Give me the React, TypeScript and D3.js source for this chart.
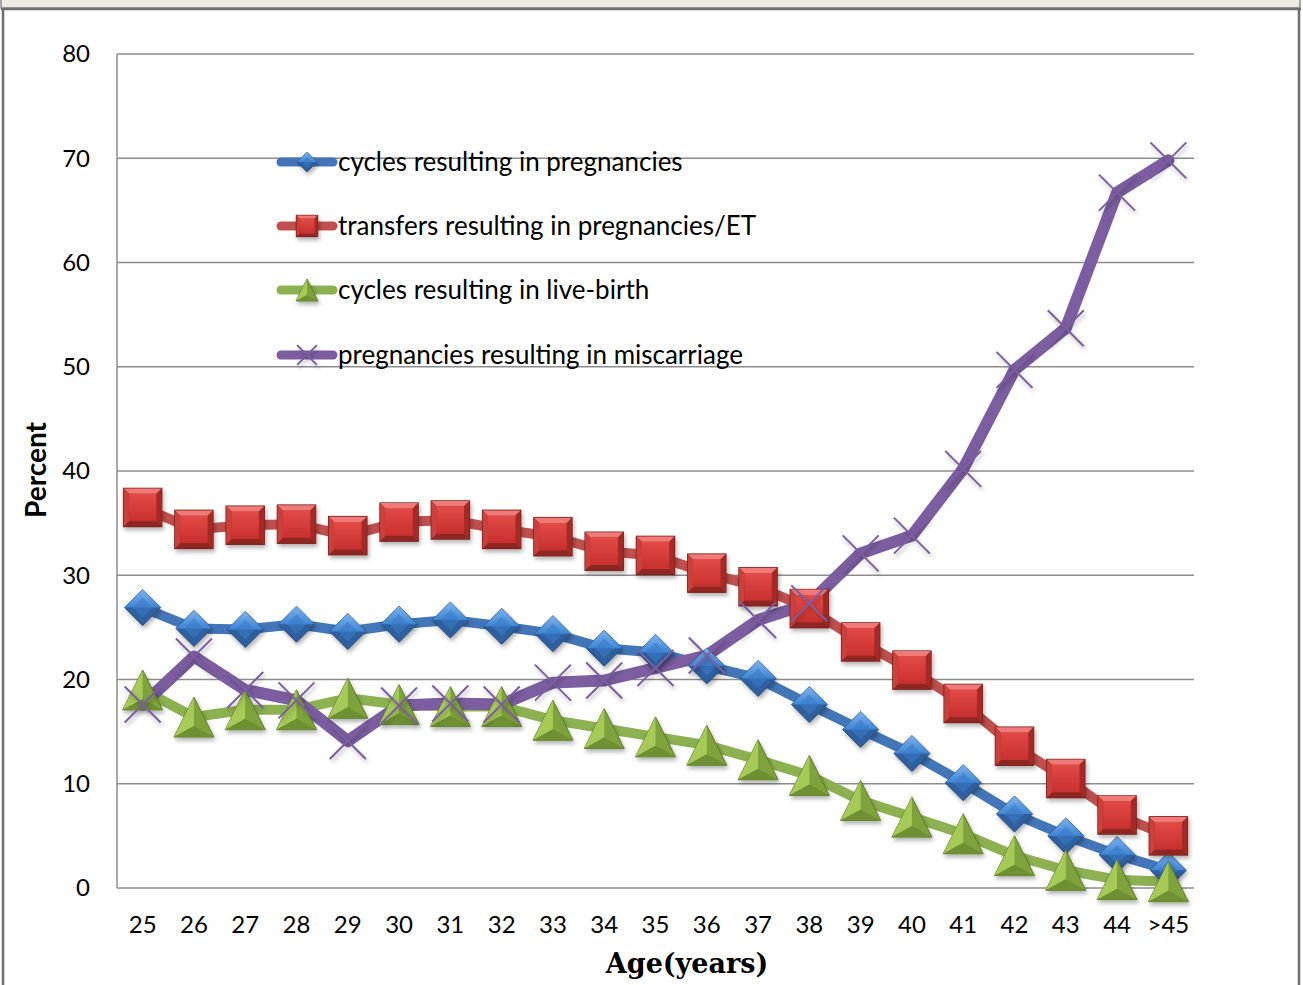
import React from "react";
import * as d3 from "d3";

const categories = ["25","26","27","28","29","30","31","32","33","34","35","36","37","38","39","40","41","42","43","44",">45"];
const cyclesPregnancies = [26.9,24.9,24.8,25.3,24.6,25.3,25.7,25.1,24.4,23.0,22.6,21.3,20.1,17.6,15.2,12.9,10.1,7.1,5.0,3.2,1.7];
const transfersPregnancies = [36.5,34.4,34.8,34.9,33.8,35.1,35.3,34.4,33.7,32.3,31.9,30.2,28.9,26.8,23.6,20.9,17.7,13.6,10.5,7.0,5.0];
const cyclesLiveBirth = [19.0,16.4,17.1,17.1,18.2,17.6,17.4,17.4,16.1,15.3,14.5,13.7,12.3,10.8,8.4,6.8,5.2,3.1,1.7,0.8,0.6];
const pregMiscarriage = [17.6,22.2,19.0,18.0,14.1,17.5,17.7,17.6,19.7,19.9,21.1,22.3,25.7,27.3,32.1,33.8,40.2,49.7,53.7,66.7,69.8];
const yTicks = [0,10,20,30,40,50,60,70,80];

const seriesNames = [
  "cycles resulting in pregnancies",
  "transfers resulting in pregnancies/ET",
  "cycles resulting in live-birth",
  "pregnancies resulting in miscarriage",
];

const W = 1303, H = 985;
const L = 117, R = 1194, T = 54, B = 888;

const x = d3.scaleBand<string>().domain(categories).range([L, R]);
const y = d3.scaleLinear().domain([0, 80]).range([B, T]);
const cx = (c: string) => (x(c) as number) + x.bandwidth() / 2;

type Kind = "diamond" | "square" | "triangle" | "x";

const series = [
  { name: seriesNames[0], data: cyclesPregnancies, color: "#4376B8", kind: "diamond" as Kind, w: 10 },
  { name: seriesNames[1], data: transfersPregnancies, color: "#C0504D", kind: "square" as Kind, w: 10 },
  { name: seriesNames[2], data: cyclesLiveBirth, color: "#8DB051", kind: "triangle" as Kind, w: 10 },
  { name: seriesNames[3], data: pregMiscarriage, color: "#7B5DA0", kind: "x" as Kind, w: 12 },
];

function Marker({ kind, px, py, scale = 1 }: { kind: Kind; px: number; py: number; scale?: number }) {
  const s = scale;
  if (kind === "diamond") {
    const r = 18 * s;
    return (
      <g transform={`translate(${px},${py})`} filter="url(#shadow)">
        <path d={`M0,${-r}L${r},0L0,${r}L${-r},0Z`} fill="#2F5F9E" stroke="#264C80" strokeWidth={1} />
        <path d={`M0,${-r}L${r},0L${-r},0Z`} fill="url(#gBlueTop)" />
        <path d={`M0,${-r * 0.55}L${r * 0.55},0L0,${r * 0.55}L${-r * 0.55},0Z`} fill="#3B7BC8" opacity={0.6} />
      </g>
    );
  }
  if (kind === "square") {
    const r = 19 * s;
    const i = r * 0.72;
    return (
      <g transform={`translate(${px},${py})`} filter="url(#shadow)">
        <rect x={-r} y={-r} width={2 * r} height={2 * r} fill="#B02C2A" stroke="#7A2220" strokeWidth={1.5} />
        <path d={`M${-r},${-r}L${r},${-r}L${i},${-i}L${-i},${-i}Z`} fill="#F07A78" />
        <path d={`M${-r},${r}L${r},${r}L${i},${i}L${-i},${i}Z`} fill="#8E2523" />
        <path d={`M${-r},${-r}L${-i},${-i}L${-i},${i}L${-r},${r}Z`} fill="#C9403D" />
        <path d={`M${r},${-r}L${i},${-i}L${i},${i}L${r},${r}Z`} fill="#A52A28" />
        <rect x={-i} y={-i} width={2 * i} height={2 * i} fill="url(#gRedFace)" />
      </g>
    );
  }
  if (kind === "triangle") {
    const h = 20 * s, b = 20 * s;
    return (
      <g transform={`translate(${px},${py})`} filter="url(#shadow)">
        <path d={`M0,${-h}L${b},${h}L${-b},${h}Z`} fill="#7FA23C" stroke="#5C7A2A" strokeWidth={1} />
        <path d={`M0,${-h}L0,${h * 0.45}L${-b},${h}Z`} fill="#A6C958" />
        <path d={`M0,${h * 0.45}L${b},${h}L${-b},${h}Z`} fill="#6E8F32" />
      </g>
    );
  }
  const r = 18 * s;
  return (
    <g transform={`translate(${px},${py})`} stroke="#7B5DA0" strokeWidth={2} filter="url(#shadow)">
      <line x1={-r} y1={-r} x2={r} y2={r} />
      <line x1={-r} y1={r} x2={r} y2={-r} />
    </g>
  );
}

export default function App() {
  const line = d3.line<number>().x((_, i) => cx(categories[i])).y((d) => y(d));
  const legendY = [162, 226, 290, 355];
  return (
    <div style={{ position: "absolute", left: 0, top: 0 }}>
      <svg width={W} height={H} style={{ display: "block" }} fontFamily="Lato, 'Open Sans', sans-serif">
        <defs>
          <filter id="shadow" x="-50%" y="-50%" width="200%" height="200%">
            <feDropShadow dx="1.5" dy="3" stdDeviation="2" floodColor="#000" floodOpacity="0.3" />
          </filter>
          <linearGradient id="gBlueTop" x1="0" y1="0" x2="0" y2="1">
            <stop offset="0" stopColor="#7DB2EE" />
            <stop offset="1" stopColor="#3F86D4" />
          </linearGradient>
          <linearGradient id="gRedFace" x1="0" y1="0" x2="0" y2="1">
            <stop offset="0" stopColor="#E24A47" />
            <stop offset="1" stopColor="#C8302E" />
          </linearGradient>
        </defs>
        <rect x={0} y={0} width={W} height={H} fill="#fff" />
        <rect x={1} y={-2} width={1299} height={10} fill="#EEEBE0" stroke="#8A8A8A" strokeWidth={1.5} />
        <line x1={1} y1={9} x2={1301} y2={9} stroke="#6E6E6E" strokeWidth={2.5} />
        <line x1={3} y1={9} x2={3} y2={H} stroke="#6E6E6E" strokeWidth={2.5} />
        <line x1={1299} y1={9} x2={1299} y2={H} stroke="#6E6E6E" strokeWidth={2.5} />

        {yTicks.map((t) => (
          <g key={t}>
            <line x1={L} x2={R} y1={y(t)} y2={y(t)} stroke="#8C8C8C" strokeWidth={1.5} />
            <text x={90} y={y(t)} dy="0.35em" textAnchor="end" fontSize={24} fill="#000">{t}</text>
          </g>
        ))}
        <line x1={L} x2={L} y1={T} y2={B} stroke="#8C8C8C" strokeWidth={1.5} />

        {categories.map((c) => (
          <text key={c} x={cx(c)} y={933} textAnchor="middle" fontSize={24} fill="#000">{c}</text>
        ))}

        <text transform={`translate(46,${(T + B) / 2 - 1}) rotate(-90)`} textAnchor="middle" fontSize={28} fontWeight="bold" fill="#000">Percent</text>
        <text x={687} y={973} textAnchor="middle" fontSize={27} fontWeight="bold" fontFamily="'DejaVu Serif', 'Liberation Serif', serif" fill="#000">Age(years)</text>

        {series.map((s) => (
          <path key={s.name} d={line(s.data) || ""} fill="none" stroke={s.color} strokeWidth={s.w} strokeLinejoin="round" strokeLinecap="round" />
        ))}
        {series.map((s) =>
          s.data.map((v, i) => <Marker key={s.name + i} kind={s.kind} px={cx(categories[i])} py={y(v)} />)
        )}

        {series.map((s, k) => (
          <g key={"lg" + k}>
            <line x1={281} x2={333} y1={legendY[k]} y2={legendY[k]} stroke={s.color} strokeWidth={9} strokeLinecap="round" />
            <Marker kind={s.kind} px={307} py={legendY[k]} scale={0.55} />
            <text x={338} y={legendY[k]} dy="0.35em" fontSize={26} fill="#000">{s.name}</text>
          </g>
        ))}
      </svg>
    </div>
  );
}
